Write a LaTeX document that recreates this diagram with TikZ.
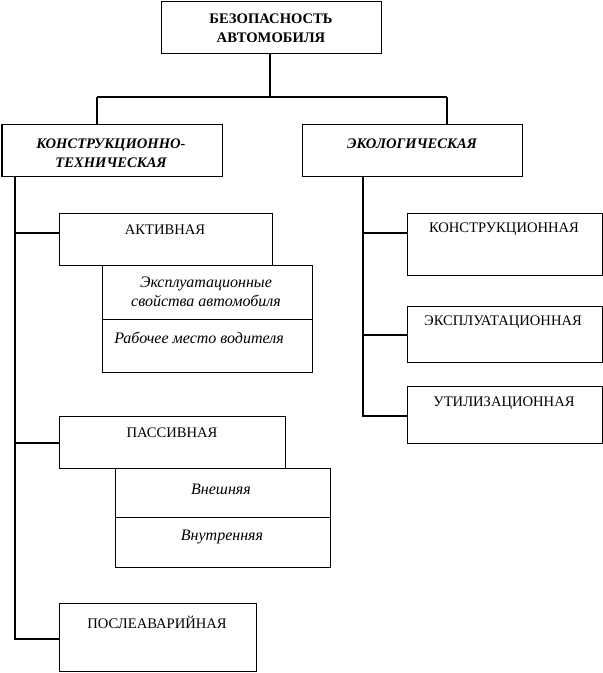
\documentclass[tikz,border=0pt]{standalone}
\usepackage{fontspec}
\setmainfont{Liberation Serif}
\begin{document}
\begin{tikzpicture}[x=1pt,y=-1pt,
  line width=1.2pt,
  box/.style={draw, inner sep=0pt, anchor=north west},
  lbl/.style={inner sep=0pt, align=center, font=\fontsize{14.6}{17}\selectfont},
  ilbl/.style={lbl, font=\fontsize{16}{19}\selectfont\itshape},
  blbl/.style={lbl, font=\fontsize{14.6}{19}\selectfont\bfseries},
  bilbl/.style={lbl, font=\fontsize{14.6}{19}\selectfont\bfseries\itshape}]
\useasboundingbox (0,0) rectangle (603,673);
% boxes
\node[box, minimum width=220pt, minimum height=52pt] (top) at (161,1) {};
\node[box, minimum width=220pt, minimum height=52pt] (lb) at (1.5,124) {};
\node[box, minimum width=220pt, minimum height=52pt] (rb) at (302,124) {};
\node[box, minimum width=213pt, minimum height=52pt] (akt) at (59,213) {};
\node[box, minimum width=210pt, minimum height=54pt] (eks) at (102,265) {};
\node[box, minimum width=210pt, minimum height=53pt] (rab) at (102,319) {};
\node[box, minimum width=226pt, minimum height=52pt] (pas) at (59,416) {};
\node[box, minimum width=215pt, minimum height=49pt] (vne) at (115,468) {};
\node[box, minimum width=215pt, minimum height=50pt] (vnu) at (115,517) {};
\node[box, minimum width=197pt, minimum height=68pt] (posl) at (59,603) {};
\node[box, minimum width=195pt, minimum height=62pt] (kon) at (406.5,213) {};
\node[box, minimum width=195pt, minimum height=56pt] (ekp) at (406.5,306) {};
\node[box, minimum width=195pt, minimum height=57pt] (uti) at (406.5,386) {};
% texts
\node[blbl] (tTop) at (271,28) {БЕЗОПАСНОСТЬ\\АВТОМОБИЛЯ};
\node[bilbl] (tLb) at (111,153) {КОНСТРУКЦИОННО-\\ТЕХНИЧЕСКАЯ};
\node[bilbl] (tRb) at (412,144) {ЭКОЛОГИЧЕСКАЯ};
\node[lbl] (tAkt) at (165,230) {АКТИВНАЯ};
\node[ilbl] (tEks) at (206,292) {Эксплуатационные\\свойства автомобиля};
\node[ilbl] (tRab) at (199,338) {Рабочее место водителя};
\node[lbl] (tPas) at (172,433) {ПАССИВНАЯ};
\node[ilbl] (tVne) at (221,489) {Внешняя};
\node[ilbl] (tVnu) at (222,537) {Внутренняя};
\node[lbl] (tPosl) at (157,622) {ПОСЛЕАВАРИЙНАЯ};
\node[lbl] (tKon) at (504,229) {КОНСТРУКЦИОННАЯ};
\node[lbl] (tEkp) at (503,322) {ЭКСПЛУАТАЦИОННАЯ};
\node[lbl] (tUti) at (504,403) {УТИЛИЗАЦИОННАЯ};
% connectors
\coordinate (jn) at (270,97);
\coordinate (jl) at (97,97);
\coordinate (jr) at (447,97);
\draw (top.south -| jn) -- (jn);
\draw (jl) -- (jr);
\draw (jl) -- (jl |- lb.north);
\draw (jr) -- (jr |- rb.north);
\coordinate (sl) at (15,176);
\coordinate (slA) at (15,233);
\coordinate (slP) at (15,443);
\coordinate (slE) at (15,639);
\draw (sl) -- (slE) -- (slE -| posl.west);
\draw (slA) -- (slA -| akt.west);
\draw (slP) -- (slP -| pas.west);
\coordinate (sr) at (363,176);
\coordinate (srK) at (363,233);
\coordinate (srE) at (363,335);
\coordinate (srU) at (363,416);
\draw (sr) -- (srU) -- (srU -| uti.west);
\draw (srK) -- (srK -| kon.west);
\draw (srE) -- (srE -| ekp.west);
\end{tikzpicture}
\end{document}
